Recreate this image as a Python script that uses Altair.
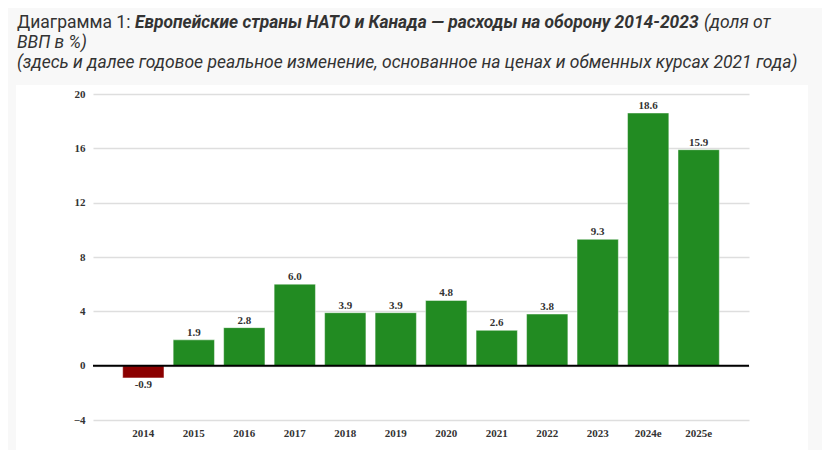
import altair as alt
import pandas as pd

years = ["2014", "2015", "2016", "2017", "2018", "2019", "2020", "2021", "2022", "2023", "2024e", "2025e"]
values = [-0.9, 1.9, 2.8, 6.0, 3.9, 3.9, 4.8, 2.6, 3.8, 9.3, 18.6, 15.9]
y_ticks = [-4, 0, 4, 8, 12, 16, 20]

title_prefix = "Диаграмма 1: "
title_bold = "Европейские страны НАТО и Канада — расходы на оборону 2014-2023"
title_tail = "(доля от"
title_line2 = "ВВП в %)"
title_line3 = "(здесь и далее годовое реальное изменение, основанное на ценах и обменных курсах 2021 года)"

df = pd.DataFrame({
    "year": years,
    "value": values,
    "label": [f"{v:.1f}" for v in values],
    "sign": ["neg" if v < 0 else "pos" for v in values],
})

FONT_T = "Roboto"
FONT_N = "Liberation Serif"
TXT = "#333333"
PAGE = "#f8f8f8"

xscale = alt.Scale(domain=years, paddingInner=0.182, paddingOuter=0.588)
yscale = alt.Scale(domain=[-4, 20], nice=False, zero=False)

base = alt.Chart(df)


def strip(x1, x2, y1, y2):
    return alt.Chart(pd.DataFrame({"a": [0]})).mark_rect(color=PAGE).encode(
        x=alt.value(x1), x2=alt.value(x2), y=alt.value(y1), y2=alt.value(y2)
    )


strip_top = strip(-90, 740, -90, -9)
strip_left = strip(-90, -77, -9, 372)
strip_right = strip(715, 740, -9, 372)

bars = base.mark_bar(stroke="#ffffff", strokeOpacity=0.45, strokeWidth=1).encode(
    x=alt.X("year:N", scale=xscale, sort=years,
            axis=alt.Axis(title=None, labelAngle=0, ticks=False, domain=False, grid=False,
                          labelFont=FONT_N, labelFontWeight="bold", labelFontSize=11,
                          labelColor=TXT, labelPadding=7)),
    y=alt.Y("value:Q", scale=yscale,
            axis=alt.Axis(title=None, values=y_ticks, ticks=False, domain=False,
                          gridColor="#dedede", gridWidth=1.5,
                          labelFont=FONT_N, labelFontWeight="bold", labelFontSize=11,
                          labelColor=TXT, labelPadding=8)),
    color=alt.Color("sign:N", scale=alt.Scale(domain=["pos", "neg"], range=["#228b22", "#8b0000"]), legend=None),
)

zero = alt.Chart(pd.DataFrame({"a": [0]})).mark_rule(color="black", strokeWidth=2).encode(
    y=alt.datum(0, scale=yscale)
)

lab_pos = base.transform_filter(alt.datum.value >= 0).mark_text(
    font=FONT_N, fontWeight="bold", fontSize=11, color=TXT, baseline="bottom", dy=-2
).encode(x=alt.X("year:N", sort=years), y="value:Q", text="label:N")

lab_neg = base.transform_filter(alt.datum.value < 0).mark_text(
    font=FONT_N, fontWeight="bold", fontSize=11, color=TXT, baseline="top", dy=1
).encode(x=alt.X("year:N", sort=years), y="value:Q", text="label:N")


def title_text(txt, x, y, size=17.5, weight="normal", style="normal", align="left"):
    return alt.Chart(pd.DataFrame({"t": [txt]})).mark_text(
        font=FONT_T, fontSize=size, fontWeight=weight, fontStyle=style, color=TXT,
        align=align, baseline="alphabetic"
    ).encode(x=alt.value(x), y=alt.value(y), text="t:N")


t1 = title_text(title_prefix, -76, -66.5)
t2 = title_text(title_bold, 42, -66.5, size=17.4, weight="bold", style="italic")
t3 = title_text(title_tail, 611, -66.5, style="italic")
t4 = title_text(title_line2, -76, -46, style="italic")
t5 = title_text(title_line3, -76, -26, style="italic")

chart = alt.layer(strip_top, strip_left, strip_right, bars, zero, lab_pos, lab_neg,
                  t1, t2, t3, t4, t5).properties(
    width=656, height=326,
    autosize=alt.AutoSizeParams(type="none"),
    padding={"left": 85, "top": 86, "right": 73, "bottom": 40},
    background="white",
).configure_view(stroke=None)

chart.save("out.html", embed_options={"renderer": "svg", "actions": False})
